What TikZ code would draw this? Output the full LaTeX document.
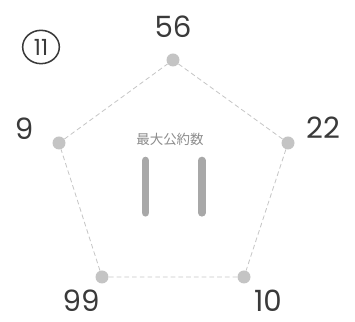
\documentclass[tikz,border=0pt]{standalone}
\usepackage{fontspec}
\setmainfont{Poppins}
\newfontfamily\cjk{Noto Sans CJK JP}
\usetikzlibrary{shapes.geometric}
\definecolor{dotgray}{HTML}{C4C4C4}
\definecolor{linegray}{HTML}{C6C6C6}
\definecolor{numgray}{HTML}{3A3A3A}
\definecolor{bargray}{HTML}{A8A8A8}
\definecolor{capgray}{HTML}{8C8C8C}
\begin{document}
\begin{tikzpicture}[x=0.3mm, y=-0.3mm,
    dot/.style={circle, fill=dotgray, inner sep=0pt, minimum size=3.9mm},
    edge/.style={linegray, line width=0.7pt, dash pattern=on 4pt off 2.6pt},
    num/.style={text=numgray, inner sep=0pt, font=\fontsize{25}{25}\selectfont},
    bar/.style={bargray, line width=6.5pt, line cap=round}]
    \useasboundingbox (0,0) rectangle (355,322);
    % corners of the pentagon
    \node[dot] (top) at (173,60) {};
    \node[dot] (right) at (288,143) {};
    \node[dot] (lowright) at (244,277) {};
    \node[dot] (lowleft) at (102,277) {};
    \node[dot] (left) at (59,143) {};
    \draw[edge] (top)--(right)--(lowright)--(lowleft)--(left)--(top);
    % numbers
    \node[num] (n56) at (173,27) {56};
    \node[num] (n22) at (323,128) {22};
    \node[num] (n10) at (268,301) {10};
    \node[num] (n99) at (81,301) {99};
    \node[num] (n9) at (24,129) {9};
    % question number
    \node[draw=numgray, line width=1.3pt, ellipse, minimum width=11mm, minimum height=10mm,
        inner sep=0pt, text=numgray, font=\fontsize{19}{19}\selectfont] (qno) at (41,47) {11};
    % answer
    \node[text=capgray, font=\cjk\fontsize{11.5}{11.5}\selectfont] (cap) at (170,139) {最大公約数};
    \draw[bar] (145.5,160.5)--(145.5,212.8);
    \draw[bar] (201.8,160.5)--(201.8,212.8);
\end{tikzpicture}
\end{document}
